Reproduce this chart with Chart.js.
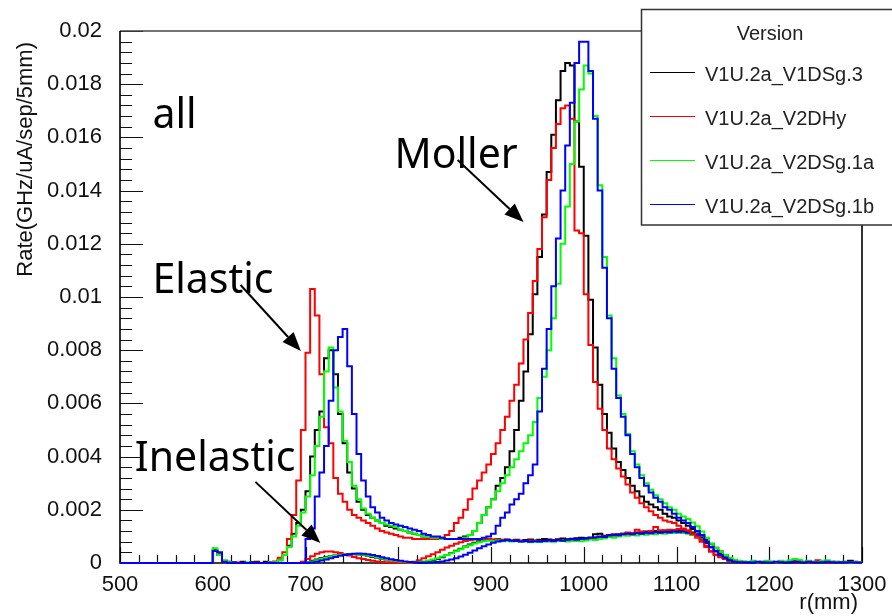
<!DOCTYPE html>
<html>
<head>
<meta charset="utf-8">
<script src="https://cdn.jsdelivr.net/npm/chart.js@4.4.1/dist/chart.umd.min.js"></script>
<style>
  html, body { margin: 0; padding: 0; background: #fff; }
  #rate-chart { display: block; }
</style>
</head>
<body>
<canvas id="rate-chart" width="892" height="616" style="width:892px;height:616px"></canvas>
<script>
// 5 mm bins, values in units of 1e-4 GHz/uA/sep/5mm
const binWidth = 5;
const unit = 1e-4;
const rMin = 500;
const rMax = 1300;
const allStart = 600;   // first bin of the "all" histograms
const inelStart = 690;  // first bin of the inelastic histograms

const versions = ['V1U.2a_V1DSg.3', 'V1U.2a_V2DHy', 'V1U.2a_V2DSg.1a', 'V1U.2a_V2DSg.1b'];
const colors = ['#000000', '#ff0000', '#00ff00', '#0000ff'];

const xTickLabels = ['500', '600', '700', '800', '900', '1000', '1100', '1200', '1300'];
const yTickLabels = ['0', '0.002', '0.004', '0.006', '0.008', '0.01', '0.012', '0.014', '0.016', '0.018', '0.02'];

// all events, 600..1295
const allV1DSg3 = [
  5, 3, 0.8, 0.5, 0.3, 0, 0.5, 0, 0.3, 0.5, 0, 0.5, 0.3, 0.5, 1, 3, 6.5, 11, 15, 20,
  27, 40, 50, 57, 77, 80, 71, 56, 45, 34, 28, 23, 20, 18, 17, 16, 15, 14, 13.5, 13,
  12.5, 12, 11.5, 11, 10.5, 10, 10, 9.5, 9.5, 9, 9, 9, 9, 9.5, 10, 10.5, 12, 15, 18, 21,
  24, 29, 32, 36, 42, 50, 61, 72, 86, 101, 115, 131, 147, 161, 174, 185, 188, 187, 166, 149,
  123, 99, 81, 67, 56, 49, 43, 38, 35, 32, 29, 27, 25, 23, 22, 21, 20, 18.5, 17.5, 17,
  16, 15, 14, 12.8, 11.8, 10.3, 8.7, 7.2, 5.7, 4.3, 3, 1.8, 1.1, 0.7, 0.5, 0.3, 0.5, 0.2, 0.3, 0.5,
  0.3, 0.2, 0.5, 0.3, 0.2, 0.5, 0.8, 0.3, 0.5, 0.3, 0.2, 0.5, 0.3, 0.5, 0.2, 0.3, 0.5, 0.8, 0.5, 0.3
];
const allV2DHy = [
  4.5, 3.5, 0.5, 0, 0, 0.2, 0, 0, 0, 0.2, 0, 0, 0.2, 0.5, 2, 4, 9, 18, 31, 50,
  79, 103, 93, 71, 51, 45, 32, 26, 23, 20, 18, 17, 16, 15, 14, 13, 12, 11.5, 11, 10.5,
  10, 9.5, 9.5, 9, 9, 9, 9, 9, 9, 9.5, 10.5, 12, 15, 17, 20, 24, 28, 31, 34, 37,
  41, 45, 50, 55, 61, 67, 75, 84, 94, 106, 118, 130, 144, 156, 165, 171, 172, 167, 125, 124,
  101, 82, 68, 58, 50, 43, 39, 35.5, 32.5, 29.5, 26.5, 24.5, 22.5, 21, 19.5, 18, 17, 16, 15.5, 15,
  14, 13, 12.3, 11, 10, 8.5, 6.5, 4.5, 3.2, 2.5, 1.8, 1, 0.5, 0.3, 0.2, 0.3, 0.5, 0.2, 0.5, 0.3,
  0.5, 0.3, 0.2, 0.5, 0.3, 0.8, 0.3, 0.5, 0.2, 0.5, 1, 0.5, 0.3, 0.2, 0.5, 0.3, 0.2, 0.3, 0.2, 0.2
];
const allV2DSg1a = [
  5.5, 3, 1, 0.3, 0, 0, 0, 0.2, 0, 0, 0, 0, 0.2, 0.3, 1, 3, 6, 10, 14, 19,
  25, 33, 44, 55, 72, 81, 66, 57, 46, 38, 29, 24, 20.5, 18.5, 17, 16, 15, 14.5, 14, 13.5,
  12.5, 12, 11.5, 11, 10.5, 10, 10, 9.5, 9.5, 9, 9, 9, 9, 9, 9.5, 10.5, 12, 15, 18, 21,
  24, 27, 30, 33, 36, 39, 42, 45, 48, 53, 62, 70, 80, 92, 105, 120, 134, 150, 166, 178,
  187, 184, 168, 142, 115, 93, 77, 63, 56, 48.5, 42, 37, 33, 30, 27.5, 25.5, 24, 22.5, 21, 20,
  18.5, 17.5, 16.5, 15.2, 13.8, 11.8, 9.5, 7.2, 5.6, 4.2, 3, 2, 1.2, 0.8, 0.5, 0.5, 0.8, 0.3, 0.5, 0.8,
  0.5, 0.3, 0.8, 0.5, 1, 1.5, 1.2, 0.5, 0.8, 0.5, 0.3, 0.8, 1, 0.5, 0.3, 0.5, 0.3, 0.2, 0.3, 0.2
];
const allV2DSg1b = [
  4.5, 4, 0.5, 0, 0, 0, 0, 0, 0, 0, 0, 0, 0, 0, 0, 0, 0, 0, 0, 0,
  9, 13, 25, 34, 44, 61, 80, 85, 88, 74, 56, 41, 31, 25, 21, 19, 17, 16, 15, 14.5,
  14, 13.5, 13, 12.5, 12, 11, 10.5, 10, 10, 9.5, 9, 9, 9, 9, 9, 9, 9, 9, 9.5, 10,
  11, 14, 17, 19, 22, 24, 26, 30, 33, 37, 57, 73, 88, 104, 122, 140, 157, 173, 188, 196,
  196, 185, 167, 140, 111, 92, 73, 62, 55, 48, 41, 36, 32, 29, 26.5, 24.5, 23, 21, 20, 18.5,
  17, 16, 15, 13.5, 12, 10.5, 8, 6, 4.5, 3, 2, 1, 0.5, 0.3, 0.3, 0.3, 0.2, 0.5, 0.3, 0.2,
  0.2, 0.5, 0.3, 0.2, 0.3, 0.5, 0.3, 0.2, 0.5, 0.3, 0.2, 0.3, 0.5, 0.3, 0.2, 0.3, 0.2, 0.3, 0.2, 0.1
];

// inelastic events, 690..1185
const inelV1DSg3 = [
  0, 0, 0.3, 0.8, 1.3, 1.8, 2.2, 2.5, 2.8, 3, 3.2, 3.3, 3.3, 3.2, 3, 2.7, 2.3, 2, 1.6, 1.3,
  1, 0.8, 0.6, 0.4, 0.3, 0.2, 0.2, 0.3, 0.6, 1, 1.5, 2.2, 3, 3.8, 4.6, 5.4, 6.2, 7, 7.6, 8.2,
  8.5, 8.8, 8.7, 8.9, 8.6, 8.8, 8.5, 8.7, 8.4, 8.6, 8.8, 8.5, 8.7, 9, 8.8, 8.6, 8.9, 9.2, 8.9, 9.1,
  9.3, 9.5, 9.3, 9.5, 10.8, 11, 10.2, 10.5, 10.3, 10.8, 11, 11.2, 11, 11.5, 11.3, 11.8, 11.5, 12, 11.8, 12.2,
  12, 12.3, 12, 12.4, 12, 11.5, 10.8, 9, 7.5, 6, 4.6, 3.4, 2.2, 1.3, 0.8, 0.4, 0.3, 0.2, 0, 0
];
const inelV2DHy = [
  0, 0.5, 1.5, 2.5, 3.5, 4, 4.3, 4.3, 4, 3.8, 3.3, 2.8, 2.3, 1.8, 1.5, 1.1, 0.8, 0.6, 0.4, 0.3,
  0.2, 0.1, 0.1, 0, 0, 0.5, 1, 1.8, 2.5, 3.3, 4, 5, 5.8, 6.5, 7.2, 7.8, 8.3, 8.6, 8.8, 9,
  8.8, 9, 8.8, 8.5, 8.7, 8.5, 8.3, 8.5, 8.4, 8.2, 8.5, 8.3, 8, 8.4, 8.2, 8.5, 8.3, 8.5, 8.6, 8.5,
  8.7, 9, 9, 9.5, 9.3, 9.8, 10, 10.2, 10.8, 10.5, 11, 11.5, 11.3, 12.5, 11.8, 11.5, 12, 13.5, 12.3, 12.2,
  12.5, 12.3, 12.8, 12.5, 12, 10.5, 9.5, 8, 6, 4.2, 3, 2.2, 1.5, 0.8, 0.4, 0.3, 0.2, 0.1, 0, 0
];
const inelV2DSg1a = [
  0, 0, 0.2, 0.6, 1, 1.5, 2, 2.4, 2.7, 3, 3.2, 3.3, 3.4, 3.3, 3.1, 2.8, 2.5, 2.1, 1.7, 1.4,
  1.1, 0.8, 0.6, 0.4, 0.3, 0.3, 0.4, 0.6, 0.9, 1.3, 1.8, 2.4, 3, 3.7, 4.4, 5.2, 6, 6.7, 7.3, 7.8,
  8.2, 8.4, 8.3, 8.5, 8.2, 8.4, 8.1, 8.3, 8, 8.2, 7.8, 8, 7.9, 8.1, 8.2, 8, 8.4, 8.3, 8.1, 8.5,
  8.3, 8.2, 8.5, 8.8, 8.6, 9, 9.3, 9.8, 9.5, 10, 10.3, 10.2, 10.5, 10.3, 10.8, 10.6, 11, 10.8, 11.2, 11,
  11.4, 11.3, 11.5, 11.3, 11, 10.6, 10, 9.2, 8.2, 7, 5.5, 4.1, 2.9, 1.9, 1.1, 0.7, 0.4, 0.3, 0, 0
];
const inelV2DSg1b = [
  0, 0, 0, 0.2, 0.5, 0.9, 1.3, 1.8, 2.3, 2.7, 3, 3.3, 3.5, 3.6, 3.5, 3.3, 3, 2.6, 2.2, 1.8,
  1.4, 1.1, 0.8, 0.6, 0.4, 0.3, 0.2, 0.2, 0.2, 0.3, 0.4, 0.6, 0.9, 1.3, 1.8, 2.4, 3.1, 3.9, 4.7, 5.5,
  6.3, 7, 7.6, 8.1, 8.4, 8.6, 8.4, 8.3, 8.1, 8.3, 8, 8.2, 8.1, 8.3, 8.5, 8.3, 8.6, 8.4, 8.7, 8.9,
  8.7, 9, 9.2, 9.5, 9.7, 10, 9.8, 10.3, 10.6, 10.4, 10.8, 11, 10.8, 11.2, 11, 11.4, 11.2, 11.6, 11.4, 11.7,
  11.5, 11.8, 11.6, 11.8, 11.4, 11, 10.4, 9.6, 8, 5.8, 4.3, 2.9, 1.9, 1, 0.5, 0.3, 0.2, 0.1, 0, 0
];

const allSeries = [allV1DSg3, allV2DHy, allV2DSg1a, allV2DSg1b];
const inelSeries = [inelV1DSg3, inelV2DHy, inelV2DSg1a, inelV2DSg1b];

// text labels and arrows, placed in data coordinates (r, rate)
const notes = [
  { text: 'all', r: 535, v: 0.01635 },
  { text: 'Moller', r: 796, v: 0.01485 },
  { text: 'Elastic', r: 535, v: 0.01015 },
  { text: 'Inelastic', r: 516, v: 0.00346 }
];
const arrows = [
  { from: [864, 0.01515], to: [935, 0.01282] },
  { from: [630, 0.01045], to: [695, 0.00797] },
  { from: [646, 0.00305], to: [716, 0.00075] }
];

const axisFont = '"Liberation Sans", Arial, Helvetica, sans-serif';

function histPoints(values, start, fromMin) {
  const pts = values.map((v, i) => ({ x: start + i * binWidth, y: v * unit }));
  pts.push({ x: start + values.length * binWidth, y: values[values.length - 1] * unit });
  if (fromMin) pts.unshift({ x: rMin, y: 0 });
  return pts;
}

function drawArrow(ctx, x1, y1, x2, y2) {
  const ang = Math.atan2(y2 - y1, x2 - x1);
  const head = 19, half = 7.5;
  const bx = x2 - head * Math.cos(ang), by = y2 - head * Math.sin(ang);
  ctx.beginPath();
  ctx.moveTo(x1, y1);
  ctx.lineTo(bx, by);
  ctx.stroke();
  ctx.beginPath();
  ctx.moveTo(x2, y2);
  ctx.lineTo(bx + half * Math.sin(ang), by - half * Math.cos(ang));
  ctx.lineTo(bx - half * Math.sin(ang), by + half * Math.cos(ang));
  ctx.closePath();
  ctx.fill();
}

const rootFrame = {
  id: 'rootFrame',
  beforeDatasetsDraw(chart) {
    const { ctx, chartArea: a, scales: { x, y } } = chart;
    ctx.save();
    ctx.strokeStyle = '#111';
    ctx.lineWidth = 1.2;
    ctx.beginPath();
    // y ticks (inside), major every 0.002, minor every 0.0004
    for (let i = 0; i <= 50; i++) {
      const py = Math.round(y.getPixelForValue(i * 0.0004)) + 0.5;
      const len = i % 5 === 0 ? 23 : 12;
      ctx.moveTo(a.left, py);
      ctx.lineTo(a.left + len, py);
    }
    // x ticks (inside), major every 100, minor every 20
    for (let i = 0; i <= 40; i++) {
      const px = Math.round(x.getPixelForValue(rMin + i * 20)) + 0.5;
      const len = i % 5 === 0 ? 16 : 8;
      ctx.moveTo(px, a.bottom);
      ctx.lineTo(px, a.bottom - len);
    }
    ctx.stroke();

    // frame
    ctx.lineWidth = 1.6;
    ctx.strokeStyle = '#444';
    ctx.beginPath();
    ctx.moveTo(a.left, a.top);
    ctx.lineTo(a.right, a.top);
    ctx.stroke();
    ctx.strokeStyle = '#000';
    ctx.beginPath();
    ctx.moveTo(a.right, a.top);
    ctx.lineTo(a.right, a.bottom);
    ctx.moveTo(a.left, a.top);
    ctx.lineTo(a.left, a.bottom);
    ctx.lineTo(a.right, a.bottom);
    ctx.stroke();

    // axis titles
    ctx.fillStyle = '#111';
    ctx.font = '22px ' + axisFont;
    ctx.textAlign = 'right';
    ctx.textBaseline = 'alphabetic';
    ctx.fillText('r(mm)', 858, 609);
    ctx.save();
    ctx.translate(32, 42);
    ctx.rotate(-Math.PI / 2);
    ctx.fillText('Rate(GHz/uA/sep/5mm)', 0, 0);
    ctx.restore();
    ctx.restore();
  },
  afterDatasetsDraw(chart) {
    const { ctx, scales: { x, y } } = chart;
    ctx.save();

    // annotations
    ctx.fillStyle = '#000';
    ctx.strokeStyle = '#000';
    ctx.lineWidth = 2;
    ctx.font = '41px "Noto Sans", "Open Sans", sans-serif';
    ctx.textAlign = 'left';
    ctx.textBaseline = 'alphabetic';
    notes.forEach(n => ctx.fillText(n.text, x.getPixelForValue(n.r), y.getPixelForValue(n.v)));
    arrows.forEach(ar => drawArrow(ctx,
      x.getPixelForValue(ar.from[0]), y.getPixelForValue(ar.from[1]),
      x.getPixelForValue(ar.to[0]), y.getPixelForValue(ar.to[1])));

    // legend box
    const bx = 641.5, by = 9.5, bw = 260, bh = 215.5;
    ctx.fillStyle = '#fff';
    ctx.fillRect(bx, by, bw, bh);
    ctx.strokeStyle = '#333';
    ctx.lineWidth = 1.5;
    ctx.strokeRect(bx, by, bw, bh);
    ctx.fillStyle = '#222';
    ctx.font = '20px ' + axisFont;
    ctx.textAlign = 'center';
    ctx.fillText('Version', 770, 40);
    ctx.textAlign = 'left';
    versions.forEach((name, i) => {
      const ly = 72.5 + i * 44;
      ctx.strokeStyle = colors[i];
      ctx.lineWidth = 1.2;
      ctx.beginPath();
      ctx.moveTo(650, ly);
      ctx.lineTo(695, ly);
      ctx.stroke();
      ctx.fillStyle = '#222';
      ctx.fillText(name, 705, ly + 8);
    });
    ctx.restore();
  }
};

const datasets = [];
inelSeries.forEach((vals, i) => {
  datasets.push({
    label: versions[i] + ' inelastic',
    data: histPoints(vals, inelStart, false),
    borderColor: colors[i],
    order: 8 - i
  });
});
allSeries.forEach((vals, i) => {
  datasets.push({
    label: versions[i],
    data: histPoints(vals, allStart, true),
    borderColor: colors[i],
    order: 4 - i
  });
});
datasets.forEach(d => {
  d.stepped = true;
  d.borderWidth = 2;
  d.pointRadius = 0;
  d.fill = false;
  d.clip = 4;
});

new Chart(document.getElementById('rate-chart'), {
  type: 'line',
  data: { datasets },
  options: {
    responsive: false,
    animation: false,
    events: [],
    layout: { padding: { top: 31, right: 30, left: 0, bottom: 0 } },
    plugins: { legend: { display: false }, tooltip: { enabled: false } },
    scales: {
      x: {
        type: 'linear',
        min: rMin,
        max: rMax,
        afterFit: s => { s.height = 53; },
        grid: { display: false },
        border: { display: false },
        ticks: {
          stepSize: 100,
          autoSkip: false,
          maxRotation: 0,
          padding: 1,
          color: '#111',
          font: { family: axisFont, size: 22 },
          callback: v => xTickLabels[Math.round((v - rMin) / 100)]
        }
      },
      y: {
        type: 'linear',
        min: 0,
        max: 0.02,
        afterFit: s => { s.width = 120; },
        grid: { display: false },
        border: { display: false },
        ticks: {
          stepSize: 0.002,
          autoSkip: false,
          padding: 10,
          color: '#111',
          font: { family: axisFont, size: 22 },
          callback: v => yTickLabels[Math.round(v / 0.002)]
        }
      }
    }
  },
  plugins: [rootFrame]
});
</script>
</body>
</html>
